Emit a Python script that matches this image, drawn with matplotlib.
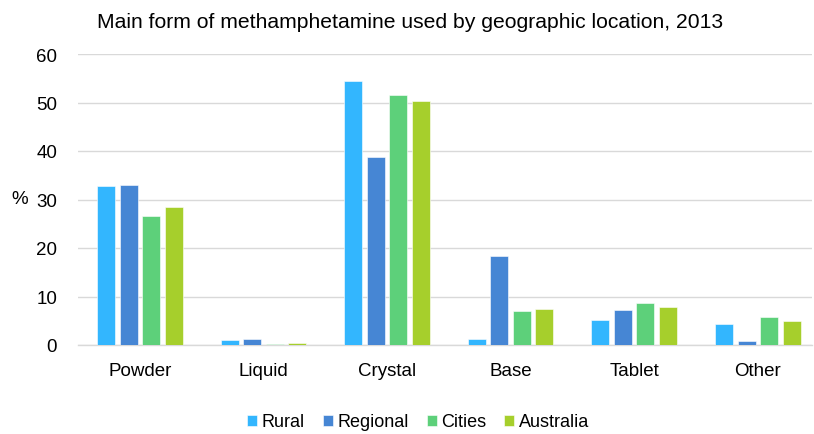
import numpy as np
import matplotlib
matplotlib.use("Agg")
from matplotlib import pyplot as plt

plt.rcParams['font.family'] = ['Liberation Sans', 'DejaVu Sans']

categories = ['Powder', 'Liquid', 'Crystal', 'Base', 'Tablet', 'Other']
series = ['Rural', 'Regional', 'Cities', 'Australia']
rural = [32.8, 1.1, 54.5, 1.2, 5.2, 4.4]
regional = [33.0, 1.3, 38.7, 18.4, 7.3, 0.8]
cities = [26.7, 0.3, 51.6, 7.0, 8.6, 5.7]
australia = [28.5, 0.5, 50.4, 7.5, 7.9, 4.9]
colors = ['#33B6FE', '#4686D4', '#5DD07A', '#A6CF2C']

fig = plt.figure(figsize=(8.14, 4.35), dpi=100)
ax = fig.add_axes([78/814, 1-346/435, (812-78)/814, (346-55)/435])

x = np.arange(len(categories))
step = 0.182
width = 0.145
for i, (vals, name) in enumerate(zip([rural, regional, cities, australia], series)):
    ax.bar(x + (i - 1.5)*step, vals, width, color=colors[i], label=name,
           edgecolor='white', linewidth=0.4, zorder=3)

ax.set_xlim(-0.5, -0.5 + 734/123.6)
ax.set_ylim(0, 60)
ax.set_yticks(range(0, 61, 10))
ax.set_xticks(x)
ax.set_xticklabels(categories, fontsize=13.5)
ax.tick_params(axis='y', labelsize=13.5, length=0, pad=15)
ax.tick_params(axis='x', length=0, pad=12)
ax.grid(axis='y', color='#D9D9D9', linewidth=1, zorder=0)
for s in ['top', 'right', 'left']:
    ax.spines[s].set_visible(False)
ax.spines['bottom'].set_color('#D9D9D9')
ax.spines['bottom'].set_linewidth(1)

fig.text(11/814, 1-200/435, '%', fontsize=13.5, va='center', ha='left')
fig.text(410/814, 1-22/435, 'Main form of methamphetamine used by geographic location, 2013',
         fontsize=15.2, ha='center', va='center')

fig.legend(loc='center', bbox_to_anchor=(418/814, 1-423/435), ncol=4, frameon=False,
           fontsize=13, handlelength=0.55, handleheight=0.55, handletextpad=0.25,
           columnspacing=1.0)

plt.savefig('out.png', dpi=100)
